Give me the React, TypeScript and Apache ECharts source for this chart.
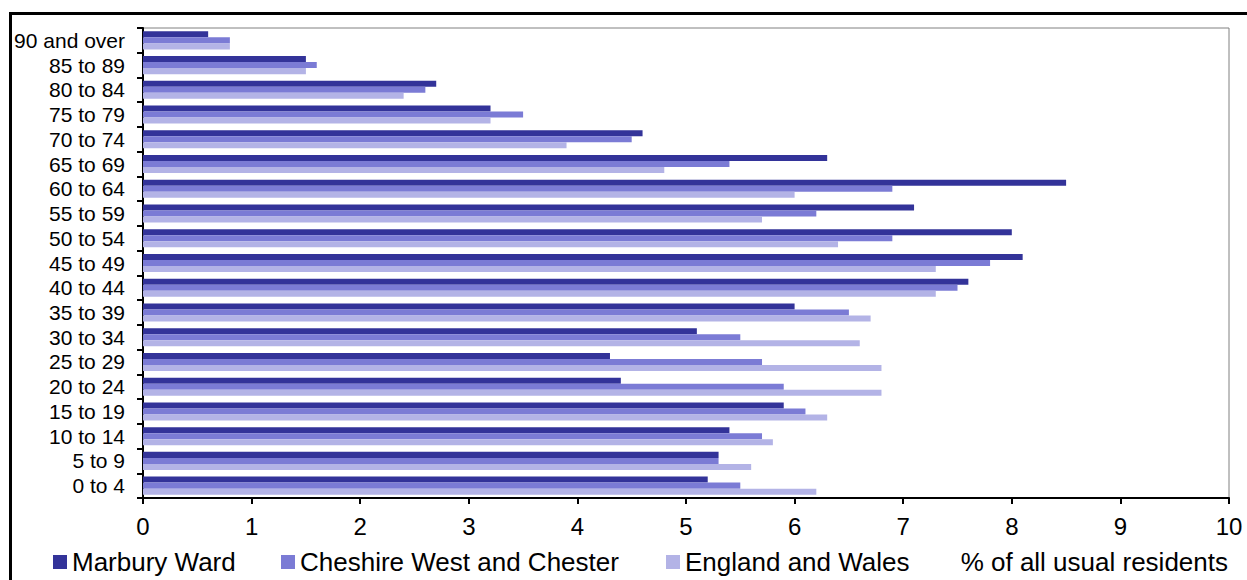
import React, { useEffect, useRef } from "react";
import * as echarts from "echarts";

const categories = [
  "0 to 4", "5 to 9", "10 to 14", "15 to 19", "20 to 24", "25 to 29", "30 to 34",
  "35 to 39", "40 to 44", "45 to 49", "50 to 54", "55 to 59", "60 to 64",
  "65 to 69", "70 to 74", "75 to 79", "80 to 84", "85 to 89", "90 and over",
];
const marbury = [5.2, 5.3, 5.4, 5.9, 4.4, 4.3, 5.1, 6.0, 7.6, 8.1, 8.0, 7.1, 8.5, 6.3, 4.6, 3.2, 2.7, 1.5, 0.6];
const cheshire = [5.5, 5.3, 5.7, 6.1, 5.9, 5.7, 5.5, 6.5, 7.5, 7.8, 6.9, 6.2, 6.9, 5.4, 4.5, 3.5, 2.6, 1.6, 0.8];
const england = [6.2, 5.6, 5.8, 6.3, 6.8, 6.8, 6.6, 6.7, 7.3, 7.3, 6.4, 5.7, 6.0, 4.8, 3.9, 3.2, 2.4, 1.5, 0.8];
const seriesNames = ["Marbury Ward", "Cheshire West and Chester", "England and Wales"];
const xTicks = [0, 1, 2, 3, 4, 5, 6, 7, 8, 9, 10];
const axisTitle = "% of all usual residents";

const COLORS = ["#333399", "#7b7bd5", "#b3b3e6"];
const FONT = "Liberation Sans, Arial, sans-serif";
const LEGEND_LEFT = [53, 281, 666];

export default function App() {
  const ref = useRef<HTMLDivElement>(null);
  useEffect(() => {
    if (!ref.current) return;
    const chart = echarts.init(ref.current, undefined, { renderer: "svg" });
    const mk = (name: string, data: number[], color: string) => ({
      name,
      type: "bar",
      data,
      itemStyle: { color },
      barGap: "0%",
      barCategoryGap: "27%",
    });
    chart.setOption({
      animation: false,
      textStyle: { fontFamily: FONT },
      grid: {
        left: 143, top: 28, right: 18, bottom: 82,
        show: true, borderColor: "#808080", borderWidth: 1, backgroundColor: "transparent",
      },
      legend: seriesNames.map((n, i) => ({
        data: [n],
        left: LEGEND_LEFT[i],
        top: 549,
        itemWidth: 14,
        itemHeight: 14,
        icon: "rect",
        padding: 0,
        textStyle: { fontSize: 26, color: "#000", fontFamily: FONT },
      })),
      xAxis: {
        type: "value",
        min: xTicks[0],
        max: xTicks[xTicks.length - 1],
        interval: 1,
        axisLine: { show: true, lineStyle: { color: "#000", width: 2 } },
        axisTick: { show: true, length: 6, lineStyle: { color: "#000", width: 2 } },
        axisLabel: { fontSize: 24, color: "#000", margin: 16, fontFamily: FONT },
        splitLine: { show: false },
      },
      yAxis: {
        type: "category",
        data: categories,
        axisLine: { show: true, lineStyle: { color: "#000", width: 2 } },
        axisTick: { show: true, length: 6, lineStyle: { color: "#000", width: 2 } },
        axisLabel: { fontSize: 21, color: "#000", margin: 18, fontFamily: FONT, interval: 0 },
      },
      series: [
        mk(seriesNames[0], marbury, COLORS[0]),
        mk(seriesNames[1], cheshire, COLORS[1]),
        mk(seriesNames[2], england, COLORS[2]),
      ],
      graphic: [
        { type: "rect", shape: { x: 9, y: 12, width: 1238, height: 3 }, style: { fill: "#000" } },
        { type: "rect", shape: { x: 9, y: 12, width: 3, height: 568 }, style: { fill: "#000" } },
        {
          type: "text", right: 19, top: 549,
          style: { text: axisTitle, fontSize: 26, fill: "#000", fontFamily: FONT },
        },
      ],
    });
    return () => chart.dispose();
  }, []);
  return (
    <div
      ref={ref}
      style={{ position: "absolute", left: 0, top: 0, width: 1247, height: 580, background: "#fff" }}
    />
  );
}
